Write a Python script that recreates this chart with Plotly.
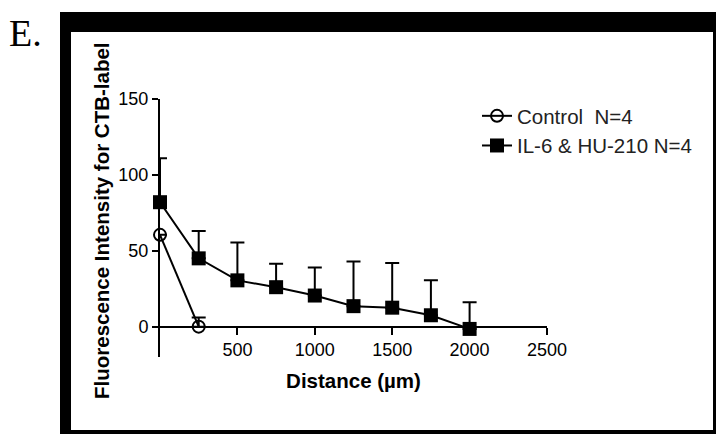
import plotly.graph_objects as go

# ---- data ----
distance = [0, 250, 500, 750, 1000, 1250, 1500, 1750, 2000]
il6_mean = [82, 45, 30.5, 26, 20.5, 13.5, 12.5, 7.5, -1.5]
il6_err = [29, 18, 25, 15.5, 18.5, 29.5, 29.5, 23, 17.5]
ctrl_distance = [0, 250]
ctrl_mean = [60.5, 0]
ctrl_err = [None, 6]

x_ticks = [500, 1000, 1500, 2000, 2500]
y_ticks = [0, 50, 100, 150]

# ---- layout geometry (pixels) ----
W, H = 716, 434
L, R, T, B = 160, 547, 99, 357  # plot area edges in px
YMIN, YMAX = -20, 150


def px2x(px):
    return (px - L) / (R - L)


def py2y(py):
    return (B - py) / (B - T)


FONT = "Liberation Sans, Arial, sans-serif"

fig = go.Figure()

fig.add_trace(go.Scatter(
    x=ctrl_distance, y=ctrl_mean, name="Control\u00a0 N=4",
    mode="lines+markers",
    line=dict(color="black", width=2),
    marker=dict(symbol="circle-open", size=12, color="black",
                line=dict(width=2, color="black")),
    error_y=dict(type="data", symmetric=False, array=ctrl_err,
                 arrayminus=[0, 0], color="black",
                 thickness=2, width=7),
    cliponaxis=False,
))

fig.add_trace(go.Scatter(
    x=distance, y=il6_mean, name="IL-6 & HU-210 N=4",
    mode="lines+markers",
    line=dict(color="black", width=2),
    marker=dict(symbol="square", size=14, color="black",
                line=dict(width=0)),
    error_y=dict(type="data", symmetric=False, array=il6_err,
                 arrayminus=[0] * len(il6_err), color="black",
                 thickness=2, width=7),
    cliponaxis=False,
))

# frame shapes
shapes = [
    dict(type="rect", xref="paper", yref="paper", layer="below",
         x0=px2x(60), x1=px2x(730), y0=py2y(445), y1=py2y(12),
         fillcolor="black", line=dict(width=0)),
    dict(type="rect", xref="paper", yref="paper", layer="below",
         x0=px2x(71), x1=px2x(713), y0=py2y(430), y1=py2y(32),
         fillcolor="white", line=dict(width=0)),
]

fig.update_layout(
    width=W, height=H,
    margin=dict(l=L, r=W - R, t=T, b=H - B, pad=0),
    paper_bgcolor="white",
    plot_bgcolor="rgba(0,0,0,0)",
    shapes=shapes,
    showlegend=True,
    legend=dict(
        x=px2x(477), y=py2y(96), xanchor="left", yanchor="top",
        font=dict(family=FONT, size=20.5, color="#222"),
        bgcolor="rgba(0,0,0,0)", tracegroupgap=16,
    ),
    font=dict(family=FONT, color="black"),
    annotations=[
        dict(text="E.", xref="paper", yref="paper",
             x=px2x(7), y=py2y(33), xanchor="left", yanchor="middle",
             showarrow=False,
             font=dict(family="Liberation Serif, Times New Roman, serif",
                       size=38, color="black")),
        dict(text="Fluorescence Intensity for CTB-label",
             xref="paper", yref="paper", textangle=-90,
             x=px2x(101), y=py2y(221), xanchor="center", yanchor="middle",
             showarrow=False,
             font=dict(family=FONT, size=20.5, color="black", weight="bold")),
    ],
)

fig.update_xaxes(
    range=[0, 2500],
    anchor="free", position=(0 - YMIN) / (YMAX - YMIN),
    showline=True, linecolor="black", linewidth=2,
    showgrid=False, zeroline=False,
    tickmode="array", tickvals=x_ticks, ticktext=[str(v) for v in x_ticks],
    ticks="outside", ticklen=7, tickwidth=2, tickcolor="black",
    tickfont=dict(family=FONT, size=18, color="black"),
    title=dict(text="Distance (\u00b5m)", standoff=13,
               font=dict(family=FONT, size=20.5, color="black", weight="bold")),
)

fig.update_yaxes(
    range=[YMIN, YMAX],
    showline=True, linecolor="black", linewidth=2,
    showgrid=False, zeroline=False,
    tickmode="array", tickvals=y_ticks, ticktext=[str(v) for v in y_ticks],
    ticks="outside", ticklen=6, tickwidth=2, tickcolor="black",
    tickfont=dict(family=FONT, size=18, color="black"),
)

fig.write_html("out.html")
